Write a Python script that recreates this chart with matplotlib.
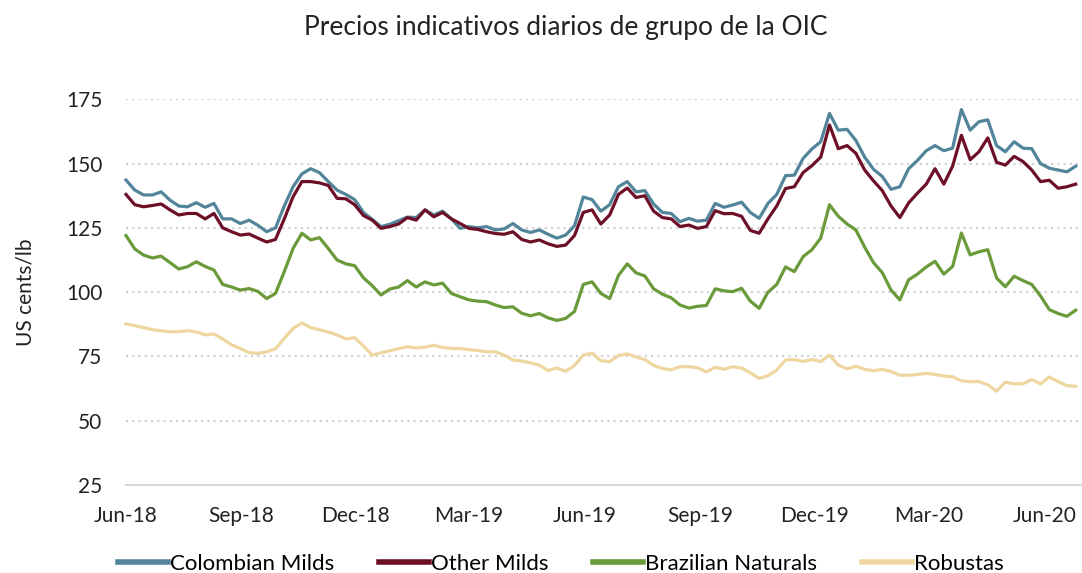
import numpy as np
import pandas as pd
import matplotlib
matplotlib.use("Agg")
import matplotlib.pyplot as plt
import matplotlib.dates as mdates

plt.rcParams['font.family'] = ['Lato', 'DejaVu Sans']

# weekly readings, starting 1 Jun 2018
dates = pd.date_range("2018-06-01", periods=109, freq="7D")

colombian = [143.6, 139.7, 137.8, 137.8, 139.0, 135.8, 133.5, 133.2, 134.8, 133.0,
             134.5, 128.5, 128.5, 126.7, 128.0, 126.0, 123.5, 125.0, 133.5, 141.0,
             146.0, 148.0, 146.5, 143.0, 139.7, 138.0, 136.0, 131.0, 128.3, 125.5,
             126.4, 127.8, 129.2, 129.0, 132.0, 130.0, 131.5, 128.5, 124.8, 125.5,
             125.0, 125.5, 124.2, 124.6, 126.7, 124.2, 123.2, 124.2, 122.5, 121.0,
             122.2, 125.8, 137.0, 136.0, 131.5, 134.0, 141.0, 143.0, 139.0, 139.5,
             134.3, 131.0, 130.6, 127.4, 128.7, 127.6, 128.0, 134.5, 133.0, 133.9,
             135.0, 131.0, 128.7, 134.5, 138.0, 145.3, 145.5, 152.0, 155.7, 158.5,
             169.5, 163.0, 163.3, 159.0, 152.5, 147.8, 145.0, 140.0, 141.0, 148.0,
             151.2, 155.0, 157.0, 155.0, 156.0, 171.0, 163.0, 166.3, 167.0, 157.0,
             154.6, 158.5, 156.0, 155.8, 150.0, 148.2, 147.5, 146.8, 149.0]

other_milds = [138.0, 134.0, 133.2, 133.7, 134.3, 132.0, 130.0, 130.6, 130.6, 128.5,
               130.6, 125.0, 123.5, 122.2, 122.6, 121.0, 119.5, 120.5, 128.5, 137.1,
               143.0, 143.0, 142.5, 141.5, 136.5, 136.3, 134.0, 129.8, 128.0, 124.8,
               125.5, 126.5, 129.0, 128.0, 132.0, 129.3, 131.0, 128.5, 126.7, 124.8,
               124.4, 123.5, 122.8, 122.5, 123.5, 120.5, 119.5, 120.3, 118.8, 117.8,
               118.3, 122.0, 131.0, 132.0, 126.5, 130.0, 138.0, 140.5, 136.8, 137.5,
               131.5, 129.0, 128.5, 125.5, 126.1, 124.8, 125.5, 131.7, 130.5, 130.6,
               129.5, 124.0, 122.9, 128.5, 133.5, 140.3, 141.0, 146.5, 149.2, 152.5,
               165.0, 155.8, 157.0, 154.0, 147.5, 143.3, 139.5, 133.5, 129.0, 134.7,
               138.5, 142.0, 148.0, 142.0, 149.0, 161.0, 151.5, 154.6, 160.0, 150.5,
               149.4, 152.8, 150.8, 147.5, 143.0, 143.5, 140.4, 141.0, 142.0]

brazilian = [122.0, 116.8, 114.4, 113.3, 114.0, 111.5, 109.0, 109.9, 111.8, 110.0,
             108.6, 103.0, 102.0, 100.8, 101.4, 100.3, 97.5, 99.5, 108.0, 117.0,
             122.9, 120.3, 121.2, 117.0, 112.5, 111.0, 110.3, 105.6, 102.5, 98.9,
             101.2, 102.0, 104.5, 102.0, 104.0, 102.8, 103.5, 99.5, 98.2, 97.0,
             96.5, 96.3, 95.0, 94.0, 94.3, 91.8, 90.8, 91.7, 90.0, 89.0,
             89.8, 92.5, 103.0, 104.0, 99.5, 97.5, 106.5, 111.0, 107.5, 106.3,
             101.3, 99.2, 97.8, 95.0, 93.8, 94.5, 94.8, 101.3, 100.5, 100.2,
             101.5, 96.5, 93.7, 100.0, 103.0, 109.8, 108.0, 113.8, 116.5, 121.0,
             134.0, 129.5, 126.5, 124.2, 117.5, 111.5, 107.6, 100.8, 97.0, 104.8,
             107.0, 109.8, 112.0, 107.0, 110.0, 123.0, 114.5, 115.7, 116.5, 105.5,
             102.1, 106.2, 104.5, 103.0, 98.5, 93.2, 91.7, 90.6, 93.0]

robustas = [87.6, 87.0, 86.2, 85.4, 85.0, 84.6, 84.6, 85.0, 84.5, 83.4,
            83.7, 81.8, 79.5, 78.1, 76.5, 76.2, 76.8, 78.0, 82.0, 85.9,
            88.0, 86.2, 85.4, 84.5, 83.4, 81.8, 82.3, 79.0, 75.5, 76.4,
            77.2, 78.0, 78.8, 78.3, 78.6, 79.3, 78.5, 78.1, 78.1, 77.6,
            77.3, 76.8, 76.8, 75.5, 73.6, 73.2, 72.5, 71.6, 69.5, 70.5,
            69.2, 71.5, 75.5, 76.3, 73.3, 73.0, 75.3, 76.0, 74.8, 73.8,
            71.5, 70.3, 69.8, 71.0, 71.0, 70.6, 69.0, 70.8, 70.0, 71.0,
            70.5, 68.6, 66.5, 67.5, 69.7, 73.6, 73.8, 73.0, 73.8, 73.0,
            75.5, 71.6, 70.2, 71.2, 70.0, 69.4, 70.0, 69.1, 67.7, 67.7,
            68.0, 68.4, 68.0, 67.4, 67.1, 65.5, 65.2, 65.2, 64.0, 61.5,
            65.0, 64.3, 64.4, 66.0, 64.3, 67.0, 65.2, 63.6, 63.4]

series = [("Colombian Milds", colombian, "#52859a"),
          ("Other Milds", other_milds, "#6e0f28"),
          ("Brazilian Naturals", brazilian, "#6a9a3a"),
          ("Robustas", robustas, "#eed6a0")]

fig = plt.figure(figsize=(10.82, 5.73), dpi=100)
ax = fig.add_axes([126 / 1082, 1 - 485 / 573, 1 - 126 / 1082, (485 - 99.3) / 573])

for name, vals, col in series:
    ax.plot(dates, vals, color=col, lw=2.3, label=name, clip_on=False, zorder=3)

ax.set_ylim(25, 175)
ax.set_yticks([25, 50, 75, 100, 125, 150, 175])
ax.set_xlim(pd.Timestamp("2018-06-01"), pd.Timestamp("2020-07-01"))
ax.xaxis.set_major_locator(mdates.MonthLocator(bymonth=[3, 6, 9, 12]))
ax.xaxis.set_major_formatter(mdates.DateFormatter("%b-%y"))

# dotted grid, solid base line
for v in [50, 75, 100, 125, 150, 175]:
    ax.axhline(v, color="#cfcfcf", lw=1.5, ls=(0, (1, 2)), zorder=1)
ax.axhline(25, color="#d9d9d9", lw=1.5, zorder=1, clip_on=False)

for s in ax.spines.values():
    s.set_visible(False)
ax.tick_params(axis="both", length=0, labelsize=15, colors="#222222")
ax.tick_params(axis="x", pad=15)
ax.tick_params(axis="y", pad=17)

ax.set_ylabel("US cents/lb", fontsize=15, color="#222222", labelpad=22)

fig.text(566 / 1082, 1 - 28 / 573, "Precios indicativos diarios de grupo de la OIC",
         ha="center", va="center", fontsize=19, color="#222222")

handles, labels = ax.get_legend_handles_labels()
leg = fig.legend(handles, labels, loc="center", bbox_to_anchor=(561 / 1082, 1 - 564 / 573),
                 ncol=4, frameon=False, fontsize=16, handlelength=2.25,
                 handletextpad=0.1, columnspacing=2.0)
for line in leg.get_lines():
    line.set_linewidth(4)

fig.savefig("out.png", dpi=100)
